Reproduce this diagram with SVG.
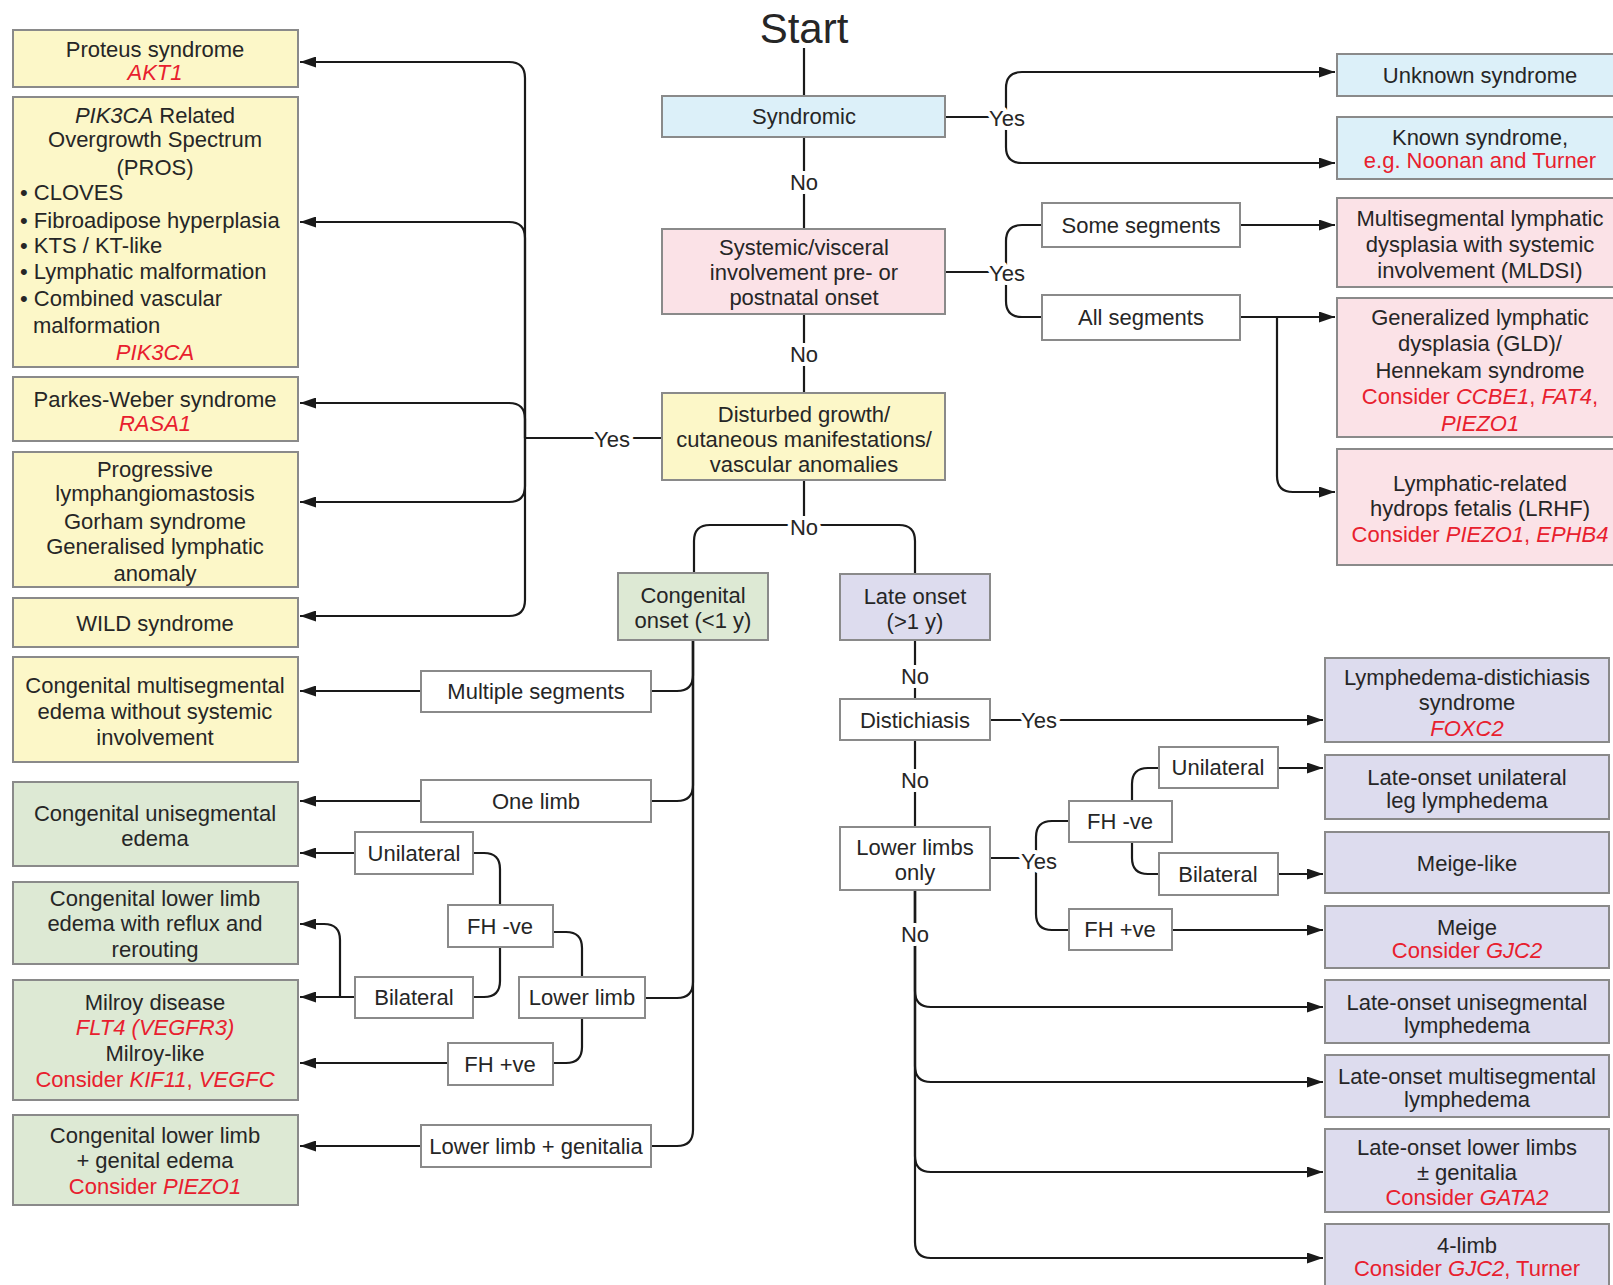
<svg xmlns="http://www.w3.org/2000/svg" width="1613" height="1285" viewBox="0 0 1613 1285">
<defs>
<marker id="ah" markerUnits="userSpaceOnUse" markerWidth="17" markerHeight="11" refX="16" refY="5.5" orient="auto"><path d="M0,0 L16,5.5 L0,11 Z" fill="#1a1a1a"/></marker>
</defs>
<style>
text{font-family:"Liberation Sans",Arial,Helvetica,sans-serif;font-size:22px;fill:#262626;text-anchor:middle}
.r{fill:#e8202e}
.i{font-style:italic}
.st{text-anchor:start}
.box{stroke:#8a8a8a;stroke-width:2}
.b{fill:#dcf0f9}.p{fill:#fbe2e7}.y{fill:#fcf7c8}.g{fill:#dde9d4}.v{fill:#dddcee}.w{fill:#fff}
.c path{fill:none;stroke:#1a1a1a;stroke-width:2.2}
.c .a{marker-end:url(#ah)}
.lbl{paint-order:stroke;stroke:#fff;stroke-width:8px;stroke-linejoin:round}
</style>
<rect width="1613" height="1285" fill="#fff"/>

<g id="connectors" class="c">
<path d="M662 438 H525"/>
<path class="a" d="M525 438 V78 Q525 62 509 62 H300"/>
<path class="a" d="M525 438 V238 Q525 222 509 222 H300"/>
<path class="a" d="M525 438 V419 Q525 403 509 403 H300"/>
<path class="a" d="M525 438 V486 Q525 502 509 502 H300"/>
<path class="a" d="M525 438 V600 Q525 616 509 616 H300"/>
<path d="M804 48 V96"/>
<path d="M804 137 V229"/>
<path d="M804 314 V393"/>
<path d="M804 480 V525"/>
<path d="M804 525 H710 Q694 525 694 541 V573"/>
<path d="M804 525 H899 Q915 525 915 541 V574"/>
<path d="M945 117 H1006"/>
<path class="a" d="M1006 117 V88 Q1006 72 1022 72 H1335"/>
<path class="a" d="M1006 117 V147 Q1006 163 1022 163 H1335"/>
<path d="M945 272 H1006"/>
<path d="M1006 272 V241 Q1006 225 1022 225 H1042"/>
<path d="M1006 272 V301 Q1006 317 1022 317 H1042"/>
<path class="a" d="M1240 225 H1335"/>
<path class="a" d="M1240 317 H1335"/>
<path class="a" d="M1277 317 V476 Q1277 492 1293 492 H1335"/>
<path d="M693 640 V675 Q693 691 677 691 H651"/>
<path d="M693 640 V785 Q693 801 677 801 H651"/>
<path d="M693 640 V982 Q693 998 677 998 H645"/>
<path d="M693 640 V1130 Q693 1146 677 1146 H651"/>
<path class="a" d="M421 691 H300"/>
<path class="a" d="M421 801 H300"/>
<path class="a" d="M355 853 H300"/>
<path d="M582 977 V948 Q582 932 566 932 H553"/>
<path d="M582 1018 V1047 Q582 1063 566 1063 H553"/>
<path d="M500 905 V869 Q500 853 484 853 H473"/>
<path d="M500 947 V981 Q500 997 484 997 H473"/>
<path class="a" d="M355 997 H300"/>
<path class="a" d="M340 997 V940 Q340 924 324 924 H300"/>
<path class="a" d="M448 1063 H300"/>
<path class="a" d="M421 1146 H300"/>
<path d="M915 640 V699"/>
<path d="M915 740 V827"/>
<path class="a" d="M915 890 V991 Q915 1007 931 1007 H1323"/>
<path class="a" d="M915 890 V1066 Q915 1082 931 1082 H1323"/>
<path class="a" d="M915 890 V1156 Q915 1172 931 1172 H1323"/>
<path class="a" d="M915 890 V1242 Q915 1258 931 1258 H1323"/>
<path class="a" d="M990 720 H1323"/>
<path d="M990 858 H1036"/>
<path d="M1036 858 V837 Q1036 821 1052 821 H1069"/>
<path d="M1036 858 V914 Q1036 930 1052 930 H1069"/>
<path d="M1132 801 V784 Q1132 768 1148 768 H1159"/>
<path d="M1132 842 V858 Q1132 874 1148 874 H1159"/>
<path class="a" d="M1278 768 H1323"/>
<path class="a" d="M1278 874 H1323"/>
<path class="a" d="M1172 930 H1323"/>
</g>

<g id="labels">
<text class="lbl" x="804" y="190">No</text>
<text class="lbl" x="804" y="362">No</text>
<text class="lbl" x="804" y="535">No</text>
<text class="lbl" x="915" y="684">No</text>
<text class="lbl" x="915" y="788">No</text>
<text class="lbl" x="915" y="942">No</text>
<text class="lbl" x="612" y="447">Yes</text>
<text class="lbl" x="1007" y="126">Yes</text>
<text class="lbl" x="1007" y="281">Yes</text>
<text class="lbl" x="1039" y="728">Yes</text>
<text class="lbl" x="1039" y="869">Yes</text>
</g>

<g id="start"><text x="804" y="43" style="font-size:42px">Start</text></g>

<g id="syndromic"><rect class="box b" x="662" y="96" width="283" height="41"/><text x="804" y="124">Syndromic</text></g>
<g id="systemic"><rect class="box p" x="662" y="229" width="283" height="85"/><text x="804" y="255">Systemic/visceral</text><text x="804" y="280">involvement pre- or</text><text x="804" y="305">postnatal onset</text></g>
<g id="disturbed"><rect class="box y" x="662" y="393" width="283" height="87"/><text x="804" y="422">Disturbed growth/</text><text x="804" y="447">cutaneous manifestations/</text><text x="804" y="472">vascular anomalies</text></g>

<g id="unknown"><rect class="box b" x="1337" y="54" width="290" height="42"/><text x="1480" y="83">Unknown syndrome</text></g>
<g id="known"><rect class="box b" x="1337" y="117" width="290" height="62"/><text x="1480" y="145">Known syndrome,</text><text x="1480" y="168" class="r">e.g. Noonan and Turner</text></g>
<g id="some-segments"><rect class="box w" x="1042" y="203" width="198" height="44"/><text x="1141" y="233">Some segments</text></g>
<g id="all-segments"><rect class="box w" x="1042" y="295" width="198" height="45"/><text x="1141" y="325">All segments</text></g>
<g id="mldsi"><rect class="box p" x="1337" y="198" width="290" height="89"/><text x="1480" y="226">Multisegmental lymphatic</text><text x="1480" y="252">dysplasia with systemic</text><text x="1480" y="278">involvement (MLDSI)</text></g>
<g id="gld"><rect class="box p" x="1337" y="298" width="290" height="139"/><text x="1480" y="325">Generalized lymphatic</text><text x="1480" y="351">dysplasia (GLD)/</text><text x="1480" y="378">Hennekam syndrome</text><text x="1480" y="404" class="r">Consider <tspan class="i">CCBE1</tspan>, <tspan class="i">FAT4</tspan>,</text><text x="1480" y="431" class="r i">PIEZO1</text></g>
<g id="lrhf"><rect class="box p" x="1337" y="449" width="290" height="116"/><text x="1480" y="491">Lymphatic-related</text><text x="1480" y="516">hydrops fetalis (LRHF)</text><text x="1480" y="542" class="r">Consider <tspan class="i">PIEZO1</tspan>, <tspan class="i">EPHB4</tspan></text></g>

<g id="proteus"><rect class="box y" x="13" y="30" width="285" height="57"/><text x="155" y="57">Proteus syndrome</text><text x="155" y="80" class="r i">AKT1</text></g>
<g id="pros"><rect class="box y" x="13" y="97" width="285" height="270"/>
<text x="155" y="123"><tspan class="i">PIK3CA</tspan> Related</text>
<text x="155" y="147">Overgrowth Spectrum</text>
<text x="155" y="175">(PROS)</text>
<text x="20" y="200" class="st">• CLOVES</text>
<text x="20" y="228" class="st">• Fibroadipose hyperplasia</text>
<text x="20" y="253" class="st">• KTS / KT-like</text>
<text x="20" y="279" class="st">• Lymphatic malformation</text>
<text x="20" y="306" class="st">• Combined vascular</text>
<text x="33" y="333" class="st">malformation</text>
<text x="155" y="360" class="r i">PIK3CA</text></g>
<g id="parkes"><rect class="box y" x="13" y="377" width="285" height="64"/><text x="155" y="407">Parkes-Weber syndrome</text><text x="155" y="431" class="r i">RASA1</text></g>
<g id="progressive"><rect class="box y" x="13" y="452" width="285" height="135"/><text x="155" y="477">Progressive</text><text x="155" y="501">lymphangiomastosis</text><text x="155" y="529">Gorham syndrome</text><text x="155" y="554">Generalised lymphatic</text><text x="155" y="581">anomaly</text></g>
<g id="wild"><rect class="box y" x="13" y="598" width="285" height="49"/><text x="155" y="631">WILD syndrome</text></g>
<g id="cong-multi"><rect class="box y" x="13" y="657" width="285" height="105"/><text x="155" y="693">Congenital multisegmental</text><text x="155" y="719">edema without systemic</text><text x="155" y="745">involvement</text></g>
<g id="cong-uni"><rect class="box g" x="13" y="782" width="285" height="84"/><text x="155" y="821">Congenital unisegmental</text><text x="155" y="846">edema</text></g>
<g id="cong-reflux"><rect class="box g" x="13" y="882" width="285" height="82"/><text x="155" y="906">Congenital lower limb</text><text x="155" y="931">edema with reflux and</text><text x="155" y="957">rerouting</text></g>
<g id="milroy"><rect class="box g" x="13" y="980" width="285" height="120"/><text x="155" y="1010">Milroy disease</text><text x="155" y="1035" class="r i">FLT4 (VEGFR3)</text><text x="155" y="1061">Milroy-like</text><text x="155" y="1087" class="r">Consider <tspan class="i">KIF11</tspan>, <tspan class="i">VEGFC</tspan></text></g>
<g id="cong-genital"><rect class="box g" x="13" y="1115" width="285" height="90"/><text x="155" y="1143">Congenital lower limb</text><text x="155" y="1168">+ genital edema</text><text x="155" y="1194" class="r">Consider <tspan class="i">PIEZO1</tspan></text></g>

<g id="congenital-onset"><rect class="box g" x="618" y="573" width="150" height="67"/><text x="693" y="603">Congenital</text><text x="693" y="628">onset (&lt;1 y)</text></g>
<g id="late-onset"><rect class="box v" x="840" y="574" width="150" height="66"/><text x="915" y="604">Late onset</text><text x="915" y="629">(&gt;1 y)</text></g>

<g id="multiple-segments"><rect class="box w" x="421" y="671" width="230" height="41"/><text x="536" y="699">Multiple segments</text></g>
<g id="one-limb"><rect class="box w" x="421" y="780" width="230" height="42"/><text x="536" y="809">One limb</text></g>
<g id="c-unilateral"><rect class="box w" x="355" y="832" width="118" height="42"/><text x="414" y="861">Unilateral</text></g>
<g id="c-fh-neg"><rect class="box w" x="448" y="905" width="105" height="42"/><text x="500" y="934">FH -ve</text></g>
<g id="c-bilateral"><rect class="box w" x="355" y="977" width="118" height="41"/><text x="414" y="1005">Bilateral</text></g>
<g id="lower-limb"><rect class="box w" x="519" y="977" width="126" height="41"/><text x="582" y="1005">Lower limb</text></g>
<g id="c-fh-pos"><rect class="box w" x="448" y="1043" width="105" height="42"/><text x="500" y="1072">FH +ve</text></g>
<g id="lower-limb-genitalia"><rect class="box w" x="421" y="1125" width="230" height="42"/><text x="536" y="1154">Lower limb + genitalia</text></g>

<g id="distichiasis"><rect class="box w" x="840" y="699" width="150" height="41"/><text x="915" y="728">Distichiasis</text></g>
<g id="lower-limbs-only"><rect class="box w" x="840" y="827" width="150" height="63"/><text x="915" y="855">Lower limbs</text><text x="915" y="880">only</text></g>
<g id="l-fh-neg"><rect class="box w" x="1069" y="801" width="103" height="41"/><text x="1120" y="829">FH -ve</text></g>
<g id="l-fh-pos"><rect class="box w" x="1069" y="909" width="103" height="41"/><text x="1120" y="937">FH +ve</text></g>
<g id="l-unilateral"><rect class="box w" x="1159" y="747" width="119" height="41"/><text x="1218" y="775">Unilateral</text></g>
<g id="l-bilateral"><rect class="box w" x="1159" y="853" width="119" height="42"/><text x="1218" y="882">Bilateral</text></g>

<g id="lds"><rect class="box v" x="1325" y="658" width="284" height="84"/><text x="1467" y="685">Lymphedema-distichiasis</text><text x="1467" y="710">syndrome</text><text x="1467" y="736" class="r i">FOXC2</text></g>
<g id="lou"><rect class="box v" x="1325" y="755" width="284" height="64"/><text x="1467" y="785">Late-onset unilateral</text><text x="1467" y="808">leg lymphedema</text></g>
<g id="meige-like"><rect class="box v" x="1325" y="832" width="284" height="61"/><text x="1467" y="871">Meige-like</text></g>
<g id="meige"><rect class="box v" x="1325" y="906" width="284" height="62"/><text x="1467" y="935">Meige</text><text x="1467" y="958" class="r">Consider <tspan class="i">GJC2</tspan></text></g>
<g id="lo-uni"><rect class="box v" x="1325" y="980" width="284" height="63"/><text x="1467" y="1010">Late-onset unisegmental</text><text x="1467" y="1033">lymphedema</text></g>
<g id="lo-multi"><rect class="box v" x="1325" y="1055" width="284" height="62"/><text x="1467" y="1084">Late-onset multisegmental</text><text x="1467" y="1107">lymphedema</text></g>
<g id="lo-lower"><rect class="box v" x="1325" y="1129" width="284" height="83"/><text x="1467" y="1155">Late-onset lower limbs</text><text x="1467" y="1180">± genitalia</text><text x="1467" y="1205" class="r">Consider <tspan class="i">GATA2</tspan></text></g>
<g id="four-limb"><rect class="box v" x="1325" y="1224" width="284" height="70"/><text x="1467" y="1253">4-limb</text><text x="1467" y="1276" class="r">Consider <tspan class="i">GJC2</tspan>, Turner</text></g>
</svg>
